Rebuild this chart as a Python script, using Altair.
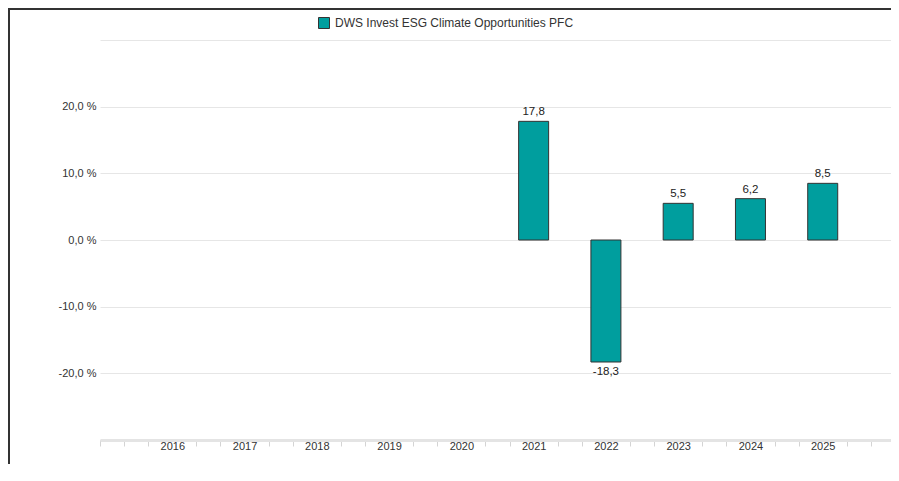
import altair as alt
import pandas as pd

years = [2016, 2017, 2018, 2019, 2020, 2021, 2022, 2023, 2024, 2025]
values = [None, None, None, None, None, 17.8, -18.3, 5.5, 6.2, 8.5]
series_name = "DWS Invest ESG Climate Opportunities PFC"
y_ticks = [-30, -20, -10, 0, 10, 20, 30]
x_ticks = [2015 + i / 3 for i in range(34)]

df = pd.DataFrame({"year": years, "value": values, "series": [series_name] * len(years)})

FONT = "Liberation Sans"
BAR = "#009E9E"
YEAR_TEST = "abs(datum.value - round(datum.value)) < 0.01 && datum.value > 2015.5 && datum.value < 2025.5"

x_enc = alt.X(
    "year:Q",
    scale=alt.Scale(domain=[2015, 2026], nice=False, zero=False, padding=0),
    axis=alt.Axis(
        title=None, grid=False, values=x_ticks, tickCount=100,
        labelExpr="(" + YEAR_TEST + ") ? format(datum.value, 'd') : ''",
        labelOverlap=False, labelFlush=False,
        domainColor="#e4e4e4", domainWidth=3,
        tickSize=6, tickWidth=1,
        tickColor={"condition": {"test": YEAR_TEST, "value": "transparent"}, "value": "#d4d4d4"},
        labelPadding=-6, labelFontSize=11, labelColor="#333333", labelFont=FONT,
    ),
)
y_enc = alt.Y(
    "value:Q",
    scale=alt.Scale(domain=[-30, 30], nice=False, padding=0),
    axis=alt.Axis(
        title=None, values=y_ticks, tickCount=20, grid=True, gridColor="#e6e6e6", gridWidth=1,
        ticks=False, tickSize=0, domain=False, labelPadding=4,
        labelExpr="abs(datum.value) > 25 ? '' : (datum.value < 0 ? '-' : '') + replace(format(abs(datum.value), '.1f'), '.', ',') + ' %'",
        labelFontSize=11, labelColor="#333333", labelFont=FONT,
    ),
)

base = alt.Chart(df)

bars = base.mark_bar(size=30, stroke="#333333", strokeWidth=1).encode(
    x=x_enc,
    y=y_enc,
    color=alt.Color(
        "series:N",
        scale=alt.Scale(domain=[series_name], range=[BAR]),
        legend=alt.Legend(
            title=None, orient="none", legendX=218, legendY=-23, padding=0,
            symbolType="square", symbolSize=121, symbolStrokeColor="#333333",
            symbolStrokeWidth=1, symbolFillColor=BAR, labelFontSize=12, labelFont=FONT,
            labelColor="#333333", labelOffset=5, labelLimit=0,
        ),
    ),
)

lbl = base.transform_filter("isValid(datum.value)").transform_calculate(
    label="(datum.value < 0 ? '-' : '') + replace(format(abs(datum.value), '.1f'), '.', ',')"
)
pos_text = lbl.transform_filter("datum.value > 0").mark_text(
    baseline="bottom", dy=-4, fontSize=11.5, font=FONT, color="#222222"
).encode(x="year:Q", y="value:Q", text="label:N")
neg_text = lbl.transform_filter("datum.value < 0").mark_text(
    baseline="top", dy=4, fontSize=11.5, font=FONT, color="#222222"
).encode(x="year:Q", y="value:Q", text="label:N")

frame_df = pd.DataFrame({"k": [0]})
left_border = alt.Chart(frame_df).mark_rule(color="#333333", strokeWidth=2).encode(
    x=alt.value(-91), y=alt.value(-32), y2=alt.value(424)
)
top_border = alt.Chart(frame_df).mark_rule(color="#333333", strokeWidth=2).encode(
    x=alt.value(-92), x2=alt.value(795), y=alt.value(-31)
)

chart = alt.layer(bars, pos_text, neg_text, left_border, top_border).properties(
    width=795, height=400,
    autosize=alt.AutoSizeParams(type="none"),
    padding={"left": 92, "top": 32, "right": -4, "bottom": 24},
).configure(font=FONT).configure_view(stroke="transparent")

chart.save("out.html", embed_options={"renderer": "svg", "actions": False})
